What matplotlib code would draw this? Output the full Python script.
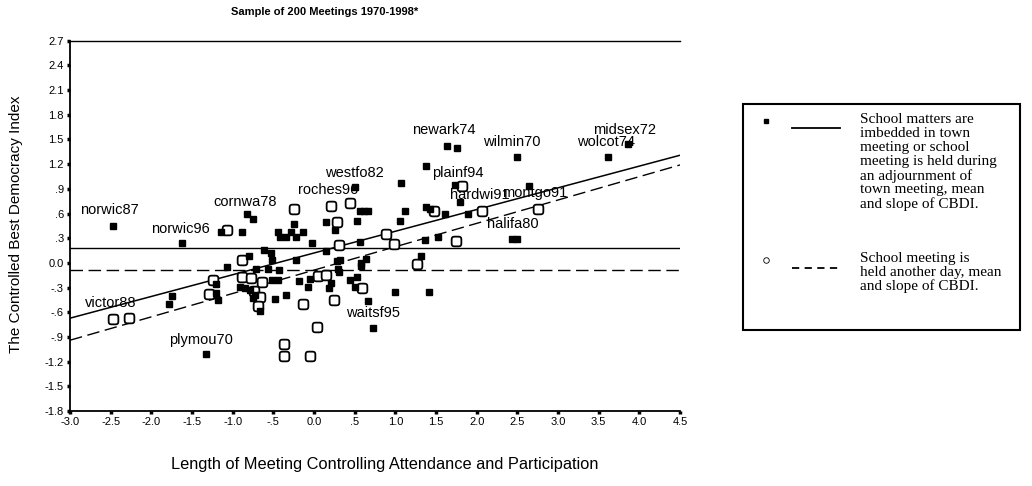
import matplotlib.pyplot as plt
import numpy as np
from matplotlib.lines import Line2D
from matplotlib.patches import Rectangle
from matplotlib.path import Path

# pontos: reunião escolar dentro da town meeting (quadrado cheio)
in_x = [-2.47, -1.62, -1.145, -0.88, -0.82, -0.75,
        -0.44, -0.42, -0.35, -0.28, -0.24, -0.22, -0.13, -0.03,
        -0.62, -0.53, -0.80, -1.07, -0.71, -0.52, -0.56, -0.43, -0.22,
        -0.52, -0.44, -0.18, -0.05, -0.07,
        -1.20, -1.21, -1.18, -1.74, -1.78,
        -0.91, -0.85, -0.79, -0.73, -0.75, -0.67, -0.48, -0.35,
        -1.33,
        0.15, 0.26, 0.15, 0.28, 0.21, 0.19,
        0.51, 0.56, 0.62, 0.66, 0.53, 0.57,
        0.32, 0.29, 0.31,
        0.645, 0.575, 0.58, 0.44, 0.53, 0.51, 0.665, 0.73,
        1.00, 1.42, 1.32, 1.36, 1.53, 2.43, 2.50,
        1.07, 1.12, 1.06, 1.38, 1.43, 1.61, 1.89, 1.79, 1.73, 2.64,
        1.63, 1.76, 1.38, 2.49, 3.62, 3.86]
in_y = [0.45, 0.24, 0.38, 0.38, 0.59, 0.53,
        0.38, 0.31, 0.32, 0.38, 0.47, 0.32, 0.38, 0.24,
        0.16, 0.12, 0.08, -0.05, -0.07, 0.03, -0.08, -0.09, 0.03,
        -0.21, -0.21, -0.22, -0.20, -0.29,
        -0.26, -0.37, -0.45, -0.40, -0.50,
        -0.29, -0.30, -0.33, -0.39, -0.43, -0.59, -0.44, -0.39,
        -1.11,
        0.50, 0.40, 0.14, 0.02, -0.25, -0.31,
        0.92, 0.63, 0.63, 0.63, 0.51, 0.25,
        0.04, -0.07, -0.11,
        0.05, 0.00, -0.04, -0.21, -0.17, -0.29, -0.46, -0.795,
        -0.35, -0.35, 0.08, 0.28, 0.31, 0.29, 0.29,
        0.97, 0.63, 0.51, 0.68, 0.65, 0.60, 0.60, 0.74, 0.95, 0.93,
        1.42, 1.40, 1.18, 1.29, 1.29, 1.44]

# pontos: reunião escolar em outro dia (quadrado aberto)
out_x = [-1.07, -0.24, -0.89, -0.89, -0.78, -0.645, -1.24, -1.29, -0.74, -0.67,
         -0.69, -2.47, -2.28, -0.13, 0.04, -0.37, -0.37, -0.05,
         0.05, 0.15, 0.21, 0.28, 0.31, 0.25,
         0.44, 0.88, 0.985, 1.27, 0.59,
         1.47, 1.82, 2.07, 2.75, 1.74]
out_y = [0.40, 0.65, 0.03, -0.17, -0.18, -0.23, -0.21, -0.38, -0.34, -0.42,
         -0.52, -0.68, -0.67, -0.50, -0.775, -0.98, -1.13, -1.13,
         -0.16, -0.15, 0.69, 0.50, 0.22, -0.45,
         0.73, 0.35, 0.23, -0.01, -0.30,
         0.63, 0.93, 0.63, 0.65, 0.27]

# nomes das cidades e onde o texto fica
lab_names = ["norwic87", "norwic96", "cornwa78", "roches96", "westfo82", "newark74",
             "wilmin70", "plainf94", "hardwi91", "montgo91", "halifa80", "midsex72",
             "wolcot74", "victor88", "plymou70", "waitsf95"]
lab_x = [-2.877, -2.005, -1.243, -0.199, 0.133, 1.20, 2.074, 1.447, 1.668, 2.307,
         2.123, 3.425, 3.229, -2.816, -1.784, 0.391]
lab_y = [0.643, 0.41, 0.74, 0.886, 1.09, 1.615, 1.474, 1.096, 0.825, 0.846,
         0.473, 1.615, 1.474, -0.487, -0.937, -0.609]

# médias e retas de regressão do CBDI
mean_in = 0.18
mean_out = -0.09
icpt_in, slope_in = 0.12, 0.264
icpt_out, slope_out = -0.088, 0.284

xticks = [-3.0, -2.5, -2.0, -1.5, -1.0, -0.5, 0.0, 0.5, 1.0, 1.5, 2.0, 2.5, 3.0, 3.5, 4.0, 4.5]
xtick_labels = ["-3.0", "-2.5", "-2.0", "-1.5", "-1.0", "-.5", "0.0", ".5", "1.0", "1.5",
                "2.0", "2.5", "3.0", "3.5", "4.0", "4.5"]
yticks = [2.7, 2.4, 2.1, 1.8, 1.5, 1.2, 0.9, 0.6, 0.3, 0.0, -0.3, -0.6, -0.9, -1.2, -1.5, -1.8]
ytick_labels = ["2.7", "2.4", "2.1", "1.8", "1.5", "1.2", ".9", ".6", ".3", "0.0",
                "-.3", "-.6", "-.9", "-1.2", "-1.5", "-1.8"]

leg_text_1 = ["School matters are", "imbedded in town", "meeting or school",
              "meeting is held during", "an adjournment of", "town meeting, mean",
              "and slope of CBDI."]
leg_text_2 = ["School meeting is", "held another day, mean", "and slope of CBDI."]

plt.rcParams['font.family'] = ['Liberation Sans', 'DejaVu Sans']

# marcador quadrado de cantos arredondados (squircle)
t = np.linspace(0, 2 * np.pi, 81)
cx, cy = np.cos(t), np.sin(t)
sq_verts = np.column_stack([np.sign(cx) * np.abs(cx) ** 0.45,
                            np.sign(cy) * np.abs(cy) ** 0.45])
round_sq = Path(sq_verts, closed=True)

fig = plt.figure(figsize=(10.32, 4.86), dpi=100)
W, H = 1032, 486
ax = fig.add_axes([70 / W, 1 - 411 / H, 610 / W, 370.3 / H])

xx = np.array([-3.0, 4.5])
ax.axhline(mean_in, color="black", lw=1.0, zorder=1)
ax.axhline(mean_out, color="black", lw=1.0, dashes=(9, 4), zorder=1)
ax.plot(xx, icpt_in + slope_in * xx, color="black", lw=1.1, zorder=1)
ax.plot(xx, icpt_out + slope_out * xx, color="black", lw=1.0, dashes=(9, 4), zorder=1)

ax.plot(in_x, in_y, linestyle="none", marker="s", markersize=4.3,
        color="black", zorder=3)
ax.plot(out_x, out_y, linestyle="none", marker=round_sq, markersize=7,
        markerfacecolor="white", markeredgecolor="black", markeredgewidth=1.3, zorder=2)

for nm, tx, ty in zip(lab_names, lab_x, lab_y):
    ax.text(tx, ty, nm, fontsize=10.5, ha="left", va="center", zorder=4)

ax.set_xlim(-3.0, 4.5)
ax.set_ylim(-1.8, 2.7)
ax.set_xticks(xticks)
ax.set_xticklabels(xtick_labels)
ax.set_yticks(yticks)
ax.set_yticklabels(ytick_labels)
ax.tick_params(direction="out", length=2.5, width=2.5, labelsize=8, pad=2)
ax.spines["right"].set_visible(False)
ax.spines["left"].set_linewidth(1.3)
ax.spines["bottom"].set_linewidth(1.3)
ax.spines["top"].set_linewidth(1.0)

fig.text(325 / W, 1 - 12 / H, "Sample of 200 Meetings 1970-1998*", fontsize=8,
         fontweight="bold", ha="center", va="center")
fig.text(385 / W, 1 - 464 / H,
         "Length of Meeting Controlling Attendance and Participation",
         fontsize=11.8, ha="center", va="center")
fig.text(16 / W, 1 - 224 / H, "The Controlled Best Democracy Index",
         fontsize=11, rotation=90, ha="center", va="center")

# legenda desenhada à mão
box_top, box_bot = 104, 330
fig.patches.append(Rectangle((743 / W, 1 - box_bot / H), 277 / W, (box_bot - box_top) / H,
                             transform=fig.transFigure, fill=False,
                             edgecolor="black", lw=1.5))
row1, row2, step = 119, 258, 14.2
fig.lines.append(Line2D([766 / W], [1 - (row1 + 2) / H], transform=fig.transFigure,
                        marker="s", markersize=3.5, color="black", linestyle="none"))
fig.lines.append(Line2D([792 / W, 840 / W], [1 - (row1 + 9) / H, 1 - (row1 + 9) / H],
                        transform=fig.transFigure, color="black", lw=1.3))
fig.lines.append(Line2D([766 / W], [1 - (row2 + 2) / H], transform=fig.transFigure,
                        marker="o", markersize=4, markerfacecolor="white",
                        markeredgecolor="black", markeredgewidth=0.6, linestyle="none"))
fig.lines.append(Line2D([792 / W, 840 / W], [1 - (row2 + 10) / H, 1 - (row2 + 10) / H],
                        transform=fig.transFigure, color="black", lw=1.3,
                        dashes=(4, 3)))
serif = ['Liberation Serif', 'DejaVu Serif']
for i, s in enumerate(leg_text_1):
    fig.text(860 / W, 1 - (row1 + i * step) / H, s, fontsize=11, family=serif,
             ha="left", va="center")
for i, s in enumerate(leg_text_2):
    fig.text(860 / W, 1 - (row2 + i * step) / H, s, fontsize=11, family=serif,
             ha="left", va="center")

fig.savefig("out.png", dpi=100)
